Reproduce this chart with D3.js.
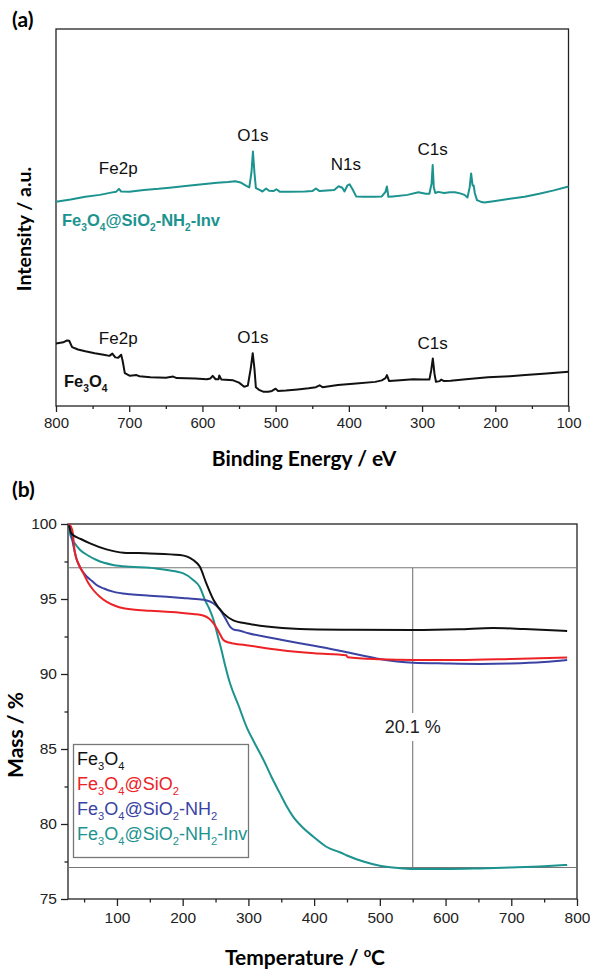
<!DOCTYPE html>
<html>
<head>
<meta charset="utf-8">
<script src="https://d3js.org/d3.v7.min.js"></script>
<style>
body { margin: 0; background: #fff; }
text { font-family: "Liberation Sans", Arial, sans-serif; }
.title { font-family: Lato, "Open Sans", sans-serif; font-weight: bold; }
</style>
</head>
<body>
<script>
// ---- panel (a): XPS survey, [binding energy, intensity a.u.]
var xpsInv = [[800,54.2],[780,54.8],[760,55.5],[740,56.0],[725,56.6],[718,56.8],[714,57.6],[711,56.9],[700,56.8],[680,57.3],
  [660,57.6],[645,57.9],[620,58.4],[600,58.8],[580,59.2],[565,59.4],[555,59.6],[548,59.3],[540,58.4],[536,58.0],[533,62],
  [531,67.5],[529,62],[527,57.8],[522,57.3],[518,56.9],[513,57.7],[509,57.1],[503,57.0],[499,57.5],[494,56.8],[480,56.8],
  [460,56.9],[450,57.0],[445,57.7],[440,57.0],[420,57.3],[414,58.3],[409,57.9],[406,56.9],[402,58.5],[399,58.8],[395,57.5],
  [390,55.6],[380,55.5],[365,55.5],[355,55.6],[350,56.8],[348,58.2],[346,55.5],[340,55.6],[320,56.0],[305,56.7],[295,56.3],
  [290,56.3],[287,59],[285.5,63.9],[284,58],[282,56.5],[278,56.8],[270,56.5],[262,56.7],[255,56.7],[248,56.4],[242,56.0],
  [238,55.3],[235,58],[233,61.7],[231,58.5],[229.5,58.5],[228,56.5],[225,54.6],[220,54.2],[215,54.0],[200,54.4],[180,55.0],
  [160,55.5],[140,56.3],[120,57.2],[100,58.2]];
var xpsBare = [[800,16.6],[790,16.9],[785,17.4],[782,17.3],[778,15.6],[770,15.0],[760,14.5],[747,14.0],[735,13.6],[727,13.3],
  [723,13.9],[719,12.9],[715,12.8],[711,13.6],[709,12.0],[706,8.7],[699,8.0],[690,8.2],[686,7.9],[671,7.6],[650,7.5],[640,7.8],
  [635,7.4],[610,7.3],[594,7.1],[589,7.3],[586,8.0],[582,7.1],[578,7.1],[577,8.1],[574,7.0],[558,6.8],[550,6.2],[543,5.1],
  [538,5.4],[534,10],[531.3,14],[529,10],[527,5.0],[522,4.2],[517,3.8],[510,3.8],[505,4.0],[500,4.6],[497,4.0],[486,4.1],
  [470,4.4],[455,4.7],[445,5.0],[440,5.5],[436,5.0],[415,5.6],[390,6.0],[364,6.4],[355,6.8],[350,7.4],[348,8.2],[345,6.6],
  [330,6.8],[312,7.1],[300,7.0],[290,7.0],[287.5,9.5],[285.3,12.6],[283,8.5],[281,6.4],[276,6.6],[274,7.0],[270,6.6],
  [261,6.7],[240,7.1],[210,7.6],[180,7.9],[159,8.2],[130,8.6],[100,9.1]];
// peak labels: [text, energy, intensity]
var peaksInv = [["Fe2p",715,61.5],["O1s",531,70.2],["N1s",404,62.5],["C1s",285.5,66.5]];
var peaksBare = [["Fe2p",715,16.4],["O1s",531,16.6],["C1s",285.5,15.2]];
var xpsTicks = [800,700,600,500,400,300,200,100];

// ---- panel (b): TGA, temperature (C) and mass (%)
var tBlack = [27,31,45,59,84,110,150,196,216,226,236,247,262,277,300,328,378,450,550,620,672,720,785];
var mBlack = [99.9,99.35,99.0,98.71,98.31,98.09,98.04,97.93,97.6,97.16,96.04,94.93,94.04,93.58,93.35,93.16,93.0,92.95,92.93,92.98,93.07,93.0,92.87];
var tRed = [27,32,36,42,49,56,64,74,84,97,110,124,150,175,196,216,231,240,247,255,262,270,277,300,348,400,449,451,500,551,620,700,785];
var mRed = [100,99.6,98.07,97.3,96.71,96.1,95.6,95.15,94.82,94.55,94.38,94.3,94.22,94.15,94.09,94.0,93.9,93.7,93.38,92.8,92.27,92.1,92.04,91.9,91.6,91.38,91.25,91.12,90.98,90.93,90.93,91.0,91.1];
var tBlue = [27,31,35,39,46,54,62,69,80,94,120,150,176,200,220,237,247,257,265,272,277,287,300,348,378,400,439,495,551,600,652,700,750,785];
var mBlue = [100,99.15,98.3,97.6,96.95,96.5,96.2,95.93,95.7,95.49,95.31,95.22,95.15,95.07,95.0,94.9,94.7,94.27,93.7,93.16,92.98,92.88,92.72,92.3,92.05,91.88,91.55,91.04,90.75,90.7,90.67,90.7,90.8,90.93];
var tTeal = [27,29,36,44,56,69,94,120,150,176,201,216,226,234,241,247,253,259,265,272,285,297,310,323,335,348,358,368,383,399,420,440,450,475,500,525,551,600,652,700,750,785];
var mTeal = [100,99.27,98.7,98.27,97.9,97.6,97.27,97.15,97.09,96.93,96.71,96.27,95.8,94.93,94.3,93.6,92.6,91.6,90.5,89.38,87.9,86.49,85.35,84.27,83.15,82.04,81.2,80.49,79.75,79.15,78.45,78.1,77.9,77.5,77.22,77.08,77.0,77.0,77.04,77.1,77.18,77.27];
var seriesNames = ["Fe_3O_4", "Fe_3O_4@SiO_2", "Fe_3O_4@SiO_2-NH_2", "Fe_3O_4@SiO_2-NH_2-Inv"];
var seriesColors = ["#111111", "#ec2227", "#3a43a3", "#1c938f"];
var tgaXTicks = [100,200,300,400,500,600,700,800];
var tgaYTicks = [75,80,85,90,95,100];
var levelTop = 97.08, levelBottom = 77.1, levelT = 550, lossLabel = "20.1 %";

var width = 590, height = 972;
var svg = d3.select("body").append("svg")
    .attr("width", width)
    .attr("height", height);

function chem(t, s, fs) {
  var down = false;
  s.split(/(_\d)/).forEach(function(p) {
    if (!p) return;
    if (p[0] === "_") {
      t.append("tspan").attr("dy", fs * 0.3).attr("font-size", fs * 0.62).text(p[1]);
      down = true;
    } else {
      t.append("tspan").attr("dy", down ? -fs * 0.3 : 0).text(p);
      down = false;
    }
  });
}

// ================= (a)
var xa = d3.scaleLinear().domain([800, 100]).range([56, 568.5]);
var ya = d3.scaleLinear().domain([0, 100]).range([406, 29]);

svg.append("text").attr("class", "title").attr("x", 12).attr("y", 27)
    .attr("font-size", 21).text("(a)");

svg.append("rect").attr("x", 56).attr("y", 29).attr("width", 512.5).attr("height", 377)
    .attr("fill", "none").attr("stroke", "#222").attr("stroke-width", 1.3);

var axA = svg.append("g").attr("transform", "translate(0,406)")
    .call(d3.axisBottom(xa).tickValues(d3.range(750, 100, -100)).tickSize(3).tickFormat(""));
axA.append("g").call(d3.axisBottom(xa).tickValues(xpsTicks).tickSize(6).tickPadding(5).tickFormat(d3.format("d")));
axA.selectAll("path").remove();
axA.selectAll("line").attr("stroke", "#222").attr("stroke-width", 1.3);
axA.selectAll("text").attr("font-size", 15).attr("fill", "#222")
    .style("font-family", "'Liberation Sans', Arial, sans-serif");

var lineA = d3.line().x(function(d) { return xa(d[0]); }).y(function(d) { return ya(d[1]); });
svg.append("path").datum(xpsInv).attr("d", lineA).attr("fill", "none")
    .attr("stroke", "#1c938f").attr("stroke-width", 2).attr("stroke-linejoin", "round");
svg.append("path").datum(xpsBare).attr("d", lineA).attr("fill", "none")
    .attr("stroke", "#111").attr("stroke-width", 2).attr("stroke-linejoin", "round");

svg.selectAll(".pk").data(peaksInv.concat(peaksBare)).enter().append("text")
    .attr("x", function(d) { return xa(d[1]); })
    .attr("y", function(d) { return ya(d[2]); })
    .attr("text-anchor", "middle").attr("font-size", 17).attr("fill", "#111")
    .text(function(d) { return d[0]; });

var labInv = svg.append("text").attr("x", 62).attr("y", 226).attr("font-size", 16.5)
    .attr("font-weight", "bold").attr("fill", "#1c938f");
chem(labInv, "Fe_3O_4@SiO_2-NH_2-Inv", 16.5);
var labBare = svg.append("text").attr("x", 64).attr("y", 387).attr("font-size", 16.5)
    .attr("font-weight", "bold").attr("fill", "#111");
chem(labBare, "Fe_3O_4", 16.5);

svg.append("text").attr("class", "title")
    .attr("transform", "translate(31,229) rotate(-90)")
    .attr("text-anchor", "middle").attr("font-size", 19.5).text("Intensity / a.u.");
svg.append("text").attr("class", "title").attr("x", 304).attr("y", 466)
    .attr("text-anchor", "middle").attr("font-size", 21).text("Binding Energy / eV");

// ================= (b)
var xb = d3.scaleLinear().domain([25.5, 800]).range([68, 577]);
var yb = d3.scaleLinear().domain([75, 100]).range([899, 524]);

svg.append("text").attr("class", "title").attr("x", 12).attr("y", 497)
    .attr("font-size", 21).text("(b)");

svg.append("rect").attr("x", 68).attr("y", 524).attr("width", 509).attr("height", 375)
    .attr("fill", "none").attr("stroke", "#222").attr("stroke-width", 1.3);

var axBx = svg.append("g").attr("transform", "translate(0,899)")
    .call(d3.axisBottom(xb).tickValues(d3.range(50, 800, 100)).tickSize(3.5).tickFormat(""));
axBx.append("g").call(d3.axisBottom(xb).tickValues(tgaXTicks).tickSize(7).tickPadding(6).tickFormat(d3.format("d")));
var axBy = svg.append("g").attr("transform", "translate(68,0)")
    .call(d3.axisLeft(yb).tickValues(d3.range(77.5, 100, 5)).tickSize(3.5).tickFormat(""));
axBy.append("g").call(d3.axisLeft(yb).tickValues(tgaYTicks).tickSize(7).tickPadding(4).tickFormat(d3.format("d")));
[axBx, axBy].forEach(function(g) {
  g.selectAll("path").remove();
  g.selectAll("line").attr("stroke", "#222").attr("stroke-width", 1.3);
  g.selectAll("text").attr("font-size", 15.5).attr("fill", "#222")
      .style("font-family", "'Liberation Sans', Arial, sans-serif");
});

// reference lines
var grid = svg.append("g").attr("stroke", "#777").attr("stroke-width", 1.1);
grid.append("line").attr("x1", 68).attr("x2", 577).attr("y1", yb(levelTop)).attr("y2", yb(levelTop));
grid.append("line").attr("x1", 68).attr("x2", 577).attr("y1", yb(levelBottom)).attr("y2", yb(levelBottom));
grid.append("line").attr("x1", xb(levelT)).attr("x2", xb(levelT)).attr("y1", yb(levelTop)).attr("y2", yb(levelBottom));
svg.append("rect").attr("x", xb(levelT) - 30).attr("y", 713).attr("width", 60).attr("height", 28).attr("fill", "#fff");
svg.append("text").attr("x", xb(levelT)).attr("y", 733).attr("text-anchor", "middle")
    .attr("font-size", 18).attr("fill", "#222").text(lossLabel);

var tga = [[tBlack, mBlack], [tRed, mRed], [tBlue, mBlue], [tTeal, mTeal]];
var lineB = d3.line().curve(d3.curveMonotoneX)
    .x(function(d) { return xb(d[0]); }).y(function(d) { return yb(d[1]); });
// draw teal first so the others sit on top like the original
[3, 2, 1, 0].forEach(function(i) {
  var pts = tga[i][0].map(function(t, j) { return [t, tga[i][1][j]]; });
  svg.append("path").datum(pts).attr("d", lineB).attr("fill", "none")
      .attr("stroke", seriesColors[i]).attr("stroke-width", 2);
});

// legend
svg.append("rect").attr("x", 73.5).attr("y", 744.5).attr("width", 175).attr("height", 113)
    .attr("fill", "#fff").attr("stroke", "#777").attr("stroke-width", 1.3);
seriesNames.forEach(function(n, i) {
  var t = svg.append("text").attr("x", 77).attr("y", 765 + i * 25).attr("font-size", 18)
      .attr("fill", seriesColors[i]);
  chem(t, n, 18);
});

svg.append("text").attr("class", "title")
    .attr("transform", "translate(23,735) rotate(-90)")
    .attr("text-anchor", "middle").attr("font-size", 21).text("Mass / %");
var tt = svg.append("text").attr("class", "title").attr("x", 305).attr("y", 965)
    .attr("text-anchor", "middle").attr("font-size", 21);
tt.append("tspan").text("Temperature / ");
tt.append("tspan").attr("dy", -8).attr("font-size", 13).text("o");
tt.append("tspan").attr("dy", 8).text("C");
</script>
</body>
</html>
